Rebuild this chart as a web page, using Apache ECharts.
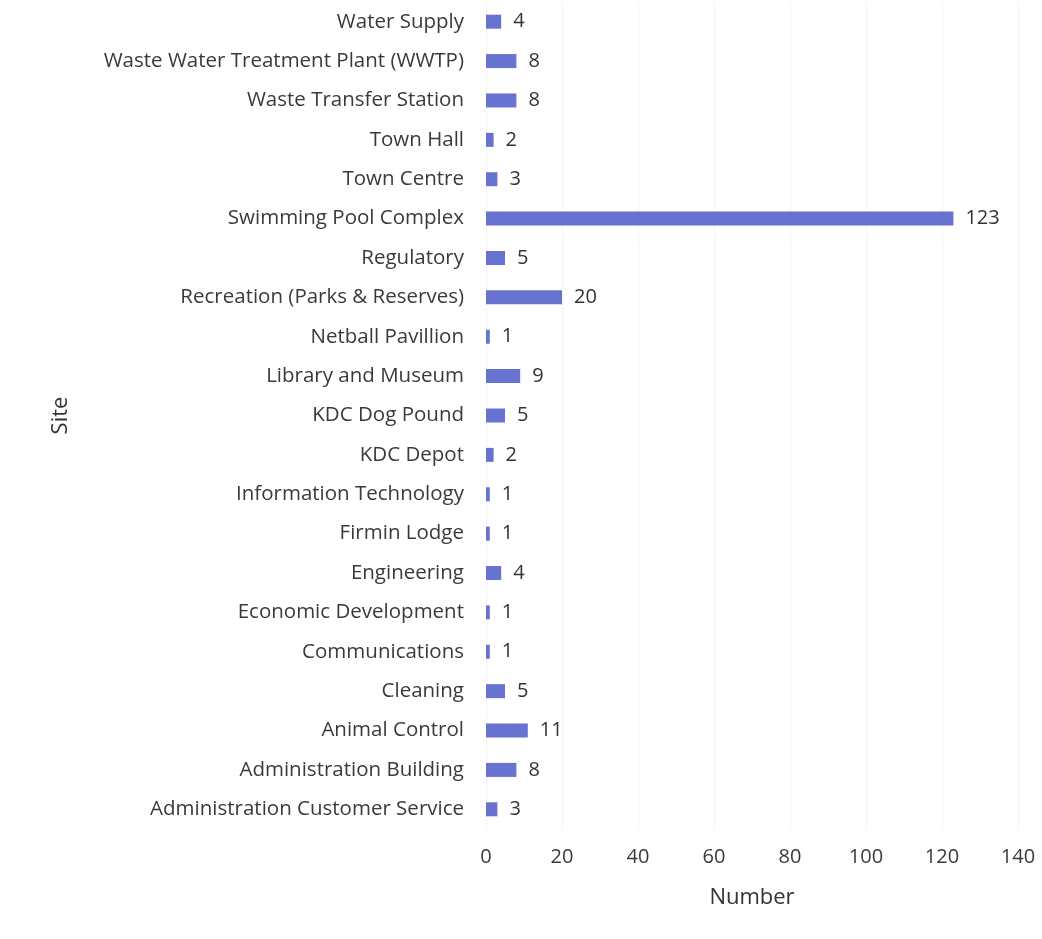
<!DOCTYPE html>
<html>
<head>
<meta charset="utf-8">
<script src="https://cdn.jsdelivr.net/npm/echarts@6/dist/echarts.min.js"></script>
<style>
  html, body { margin: 0; padding: 0; background: #ffffff; }
  #chart { width: 1042px; height: 939px; }
</style>
</head>
<body>
<div id="chart"></div>
<script>
// Sites, listed bottom to top as the category axis draws them
const sites = [
  'Administration Customer Service',
  'Administration Building',
  'Animal Control',
  'Cleaning',
  'Communications',
  'Economic Development',
  'Engineering',
  'Firmin Lodge',
  'Information Technology',
  'KDC Depot',
  'KDC Dog Pound',
  'Library and Museum',
  'Netball Pavillion',
  'Recreation (Parks & Reserves)',
  'Regulatory',
  'Swimming Pool Complex',
  'Town Centre',
  'Town Hall',
  'Waste Transfer Station',
  'Waste Water Treatment Plant (WWTP)',
  'Water Supply'
];
const counts = [3, 8, 11, 5, 1, 1, 4, 1, 1, 2, 5, 9, 1, 20, 5, 123, 3, 2, 8, 8, 4];
const xTicks = [0, 20, 40, 60, 80, 100, 120, 140];

const font = '"Open Sans", "Noto Sans", sans-serif';
const chart = echarts.init(document.getElementById('chart'));
chart.setOption({
  animation: false,
  grid: { left: 486, right: 24, top: 2, bottom: 110, containLabel: false },
  xAxis: {
    type: 'value',
    min: xTicks[0],
    max: xTicks[xTicks.length - 1],
    interval: 20,
    name: 'Number',
    nameLocation: 'middle',
    nameGap: 58,
    nameTextStyle: { fontFamily: font, fontSize: 22, color: '#333333' },
    axisLine: { show: false },
    axisTick: { show: false },
    axisLabel: { fontFamily: font, fontSize: 20, color: '#3a3a3a', margin: 18 },
    splitLine: { show: true, lineStyle: { color: '#f4f4f4', width: 1 } }
  },
  yAxis: {
    type: 'category',
    data: sites,
    name: 'Site',
    nameLocation: 'middle',
    nameGap: 414,
    nameRotate: 90,
    nameTextStyle: { fontFamily: font, fontSize: 22, color: '#333333' },
    axisLine: { show: false },
    axisTick: { show: false },
    axisLabel: { fontFamily: font, fontSize: 20.5, color: '#3a3a3a', margin: 22 },
    splitLine: { show: false }
  },
  series: [{
    type: 'bar',
    data: counts,
    barWidth: 14,
    itemStyle: { color: '#6872d0' },
    label: {
      show: true,
      position: 'right',
      distance: 12,
      fontFamily: font,
      fontSize: 20,
      color: '#333333'
    }
  }]
});
</script>
</body>
</html>
